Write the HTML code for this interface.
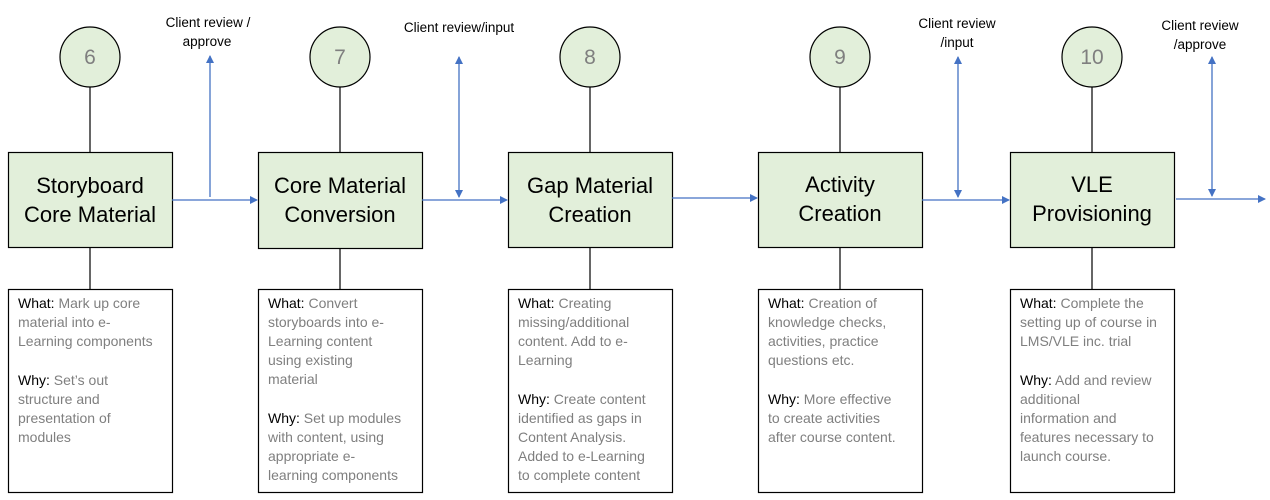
<!DOCTYPE html>
<html><head><meta charset="utf-8"><style>
html,body{margin:0;padding:0;background:#fff;}
svg{display:block;font-family:"Liberation Sans",sans-serif;}
.t{font-size:22px;fill:#000;text-anchor:middle;}
.n{font-size:21px;fill:#7f7f7f;text-anchor:middle;}
.l{font-size:13.5px;fill:#000;text-anchor:middle;}
.d{font-size:14px;fill:#7f7f7f;}
.d tspan.b{fill:#000;}
</style></head><body>
<svg width="1270" height="500" viewBox="0 0 1270 500" xmlns="http://www.w3.org/2000/svg">
<defs>
<marker id="a" markerWidth="8" markerHeight="8" refX="7" refY="4" orient="auto" markerUnits="userSpaceOnUse">
<path d="M0,0 L8,4 L0,8 z" fill="#4472c4"/></marker>
<marker id="s" markerWidth="8" markerHeight="8" refX="1" refY="4" orient="auto" markerUnits="userSpaceOnUse">
<path d="M8,0 L0,4 L8,8 z" fill="#4472c4"/></marker>
</defs>
<g stroke="#000" stroke-width="1.2">
<line x1="90" y1="87" x2="90" y2="152"/><line x1="90" y1="247" x2="90" y2="289"/>
<line x1="340" y1="87" x2="340" y2="152"/><line x1="340" y1="247" x2="340" y2="289"/>
<line x1="590" y1="87" x2="590" y2="152"/><line x1="590" y1="247" x2="590" y2="289"/>
<line x1="840" y1="87" x2="840" y2="152"/><line x1="840" y1="247" x2="840" y2="289"/>
<line x1="1092" y1="87" x2="1092" y2="152"/><line x1="1092" y1="247" x2="1092" y2="289"/>
</g>
<g fill="#e2efda" stroke="#000" stroke-width="1.2">
<circle cx="90" cy="57" r="30"/><circle cx="340" cy="57" r="30"/><circle cx="590" cy="57" r="30"/><circle cx="840" cy="57" r="30"/><circle cx="1092" cy="57" r="30"/>
<rect x="8.5" y="152.5" width="164" height="95"/>
<rect x="258.5" y="152.5" width="164" height="96"/>
<rect x="508.5" y="152.5" width="164" height="95"/>
<rect x="758.5" y="152.5" width="164" height="95"/>
<rect x="1010.5" y="152.5" width="164" height="95"/>
</g>
<g fill="#fff" stroke="#000" stroke-width="1.2">
<rect x="8.5" y="289.5" width="164" height="203"/>
<rect x="258.5" y="289.5" width="164" height="203"/>
<rect x="508.5" y="289.5" width="164" height="203"/>
<rect x="758.5" y="289.5" width="164" height="203"/>
<rect x="1010.5" y="289.5" width="164" height="203"/>
</g>
<g stroke="#4472c4" stroke-width="1.3" fill="none">
<line x1="172" y1="200" x2="257" y2="200" marker-end="url(#a)"/>
<line x1="210" y1="197" x2="210" y2="56" marker-end="url(#a)"/>
<line x1="422" y1="200" x2="507" y2="200" marker-end="url(#a)"/>
<line x1="459" y1="57" x2="459" y2="197" marker-start="url(#s)" marker-end="url(#a)"/>
<line x1="672" y1="198" x2="757" y2="198" marker-end="url(#a)"/>
<line x1="922" y1="200" x2="1009" y2="200" marker-end="url(#a)"/>
<line x1="958" y1="57" x2="958" y2="197" marker-start="url(#s)" marker-end="url(#a)"/>
<line x1="1176" y1="199" x2="1265" y2="199" marker-end="url(#a)"/>
<line x1="1212" y1="57" x2="1212" y2="196" marker-start="url(#s)" marker-end="url(#a)"/>
</g>
<text class="n" x="90" y="64">6</text><text class="n" x="340" y="64">7</text><text class="n" x="590" y="64">8</text><text class="n" x="840" y="64">9</text><text class="n" x="1092" y="64">10</text>
<text class="t" x="90" y="193">Storyboard</text><text class="t" x="90" y="222">Core Material</text>
<text class="t" x="340" y="193">Core Material</text><text class="t" x="340" y="222">Conversion</text>
<text class="t" x="590" y="193">Gap Material</text><text class="t" x="590" y="222">Creation</text>
<text class="t" x="840" y="192">Activity</text><text class="t" x="840" y="221">Creation</text>
<text class="t" x="1092" y="192">VLE</text><text class="t" x="1092" y="221">Provisioning</text>
<text class="l" x="208" y="27">Client review /</text><text class="l" x="207" y="46">approve</text>
<text class="l" x="459" y="32">Client review/input</text>
<text class="l" x="957" y="28">Client review</text><text class="l" x="957" y="47">/input</text>
<text class="l" x="1200" y="30">Client review</text><text class="l" x="1200" y="49">/approve</text>
<text class="d">
<tspan x="18" y="308"><tspan class="b">What:</tspan> Mark up core</tspan><tspan x="18" y="327">material into e-</tspan><tspan x="18" y="346">Learning components</tspan>
<tspan x="18" y="385"><tspan class="b">Why:</tspan> Set’s out</tspan><tspan x="18" y="404">structure and</tspan><tspan x="18" y="423">presentation of</tspan><tspan x="18" y="442">modules</tspan>
</text>
<text class="d">
<tspan x="268" y="308"><tspan class="b">What:</tspan> Convert</tspan><tspan x="268" y="327">storyboards into e-</tspan><tspan x="268" y="346">Learning content</tspan><tspan x="268" y="365">using existing</tspan><tspan x="268" y="384">material</tspan>
<tspan x="268" y="423"><tspan class="b">Why:</tspan> Set up modules</tspan><tspan x="268" y="442">with content, using</tspan><tspan x="268" y="461">appropriate e-</tspan><tspan x="268" y="480">learning components</tspan>
</text>
<text class="d">
<tspan x="518" y="308"><tspan class="b">What:</tspan> Creating</tspan><tspan x="518" y="327">missing/additional</tspan><tspan x="518" y="346">content. Add to e-</tspan><tspan x="518" y="365">Learning</tspan>
<tspan x="518" y="404"><tspan class="b">Why:</tspan> Create content</tspan><tspan x="518" y="423">identified as gaps in</tspan><tspan x="518" y="442">Content Analysis.</tspan><tspan x="518" y="461">Added to e-Learning</tspan><tspan x="518" y="480">to complete content</tspan>
</text>
<text class="d">
<tspan x="768" y="308"><tspan class="b">What:</tspan> Creation of</tspan><tspan x="768" y="327">knowledge checks,</tspan><tspan x="768" y="346">activities, practice</tspan><tspan x="768" y="365">questions etc.</tspan>
<tspan x="768" y="404"><tspan class="b">Why:</tspan> More effective</tspan><tspan x="768" y="423">to create activities</tspan><tspan x="768" y="442">after course content.</tspan>
</text>
<text class="d">
<tspan x="1020" y="308"><tspan class="b">What:</tspan> Complete the</tspan><tspan x="1020" y="327">setting up of course in</tspan><tspan x="1020" y="346">LMS/VLE inc. trial</tspan>
<tspan x="1020" y="385"><tspan class="b">Why:</tspan> Add and review</tspan><tspan x="1020" y="404">additional</tspan><tspan x="1020" y="423">information and</tspan><tspan x="1020" y="442">features necessary to</tspan><tspan x="1020" y="461">launch course.</tspan>
</text>
</svg>
</body></html>
